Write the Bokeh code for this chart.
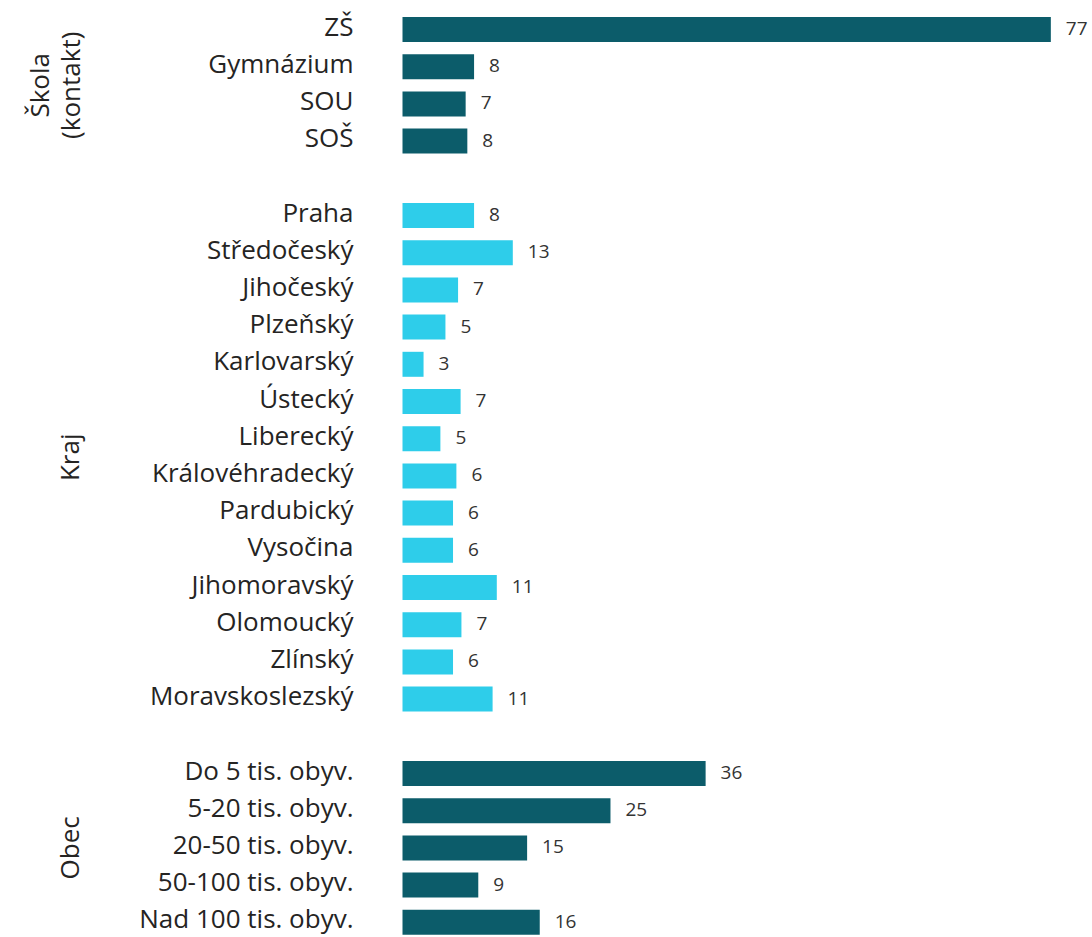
import math
from bokeh.plotting import figure
from bokeh.models import Range1d, ColumnDataSource
from bokeh.core.properties import value
from bokeh.embed import file_html
from bokeh.resources import INLINE

# ---- data ----
skola_cats = ["ZŠ", "Gymnázium", "SOU", "SOŠ"]
skola_vals = [77.0, 8.5, 7.5, 7.7]
skola_labels = ["77", "8", "7", "8"]

kraj_cats = ["Praha", "Středočeský", "Jihočeský", "Plzeňský", "Karlovarský", "Ústecký",
             "Liberecký", "Královéhradecký", "Pardubický", "Vysočina", "Jihomoravský",
             "Olomoucký", "Zlínský", "Moravskoslezský"]
kraj_vals = [8.5, 13.1, 6.6, 5.1, 2.5, 6.9, 4.5, 6.4, 6.0, 6.0, 11.2, 7.0, 6.0, 10.7]
kraj_labels = ["8", "13", "7", "5", "3", "7", "5", "6", "6", "6", "11", "7", "6", "11"]

obec_cats = ["Do 5 tis. obyv.", "5-20 tis. obyv.", "20-50 tis. obyv.",
             "50-100 tis. obyv.", "Nad 100 tis. obyv."]
obec_vals = [36.0, 24.7, 14.8, 9.0, 16.3]
obec_labels = ["36", "25", "15", "9", "16"]

group_names = ["Škola\n(kontakt)", "Kraj", "Obec"]

# ---- layout / style ----
W, H = 1092, 937
BAR_X0 = 402          # px of value 0 inside canvas
PX_PER_UNIT = 8.42
ROW_PX = 37.2
FIRST_CENTER = 29
DARK = "#0C5C6A"
LIGHT = "#2ECDEA"
FONT = value("Open Sans")

groups = [
    (skola_cats, skola_vals, skola_labels, DARK, -348),
    (kraj_cats, kraj_vals, kraj_labels, LIGHT, -334),
    (obec_cats, obec_vals, obec_labels, DARK, -334),
]

p = figure(width=W, height=H, output_backend="svg", toolbar_location=None,
           x_axis_type=None, y_axis_type=None, min_border=0,
           x_range=Range1d(-BAR_X0 / PX_PER_UNIT, (W - BAR_X0) / PX_PER_UNIT),
           y_range=Range1d((H - FIRST_CENTER) / ROW_PX, -FIRST_CENTER / ROW_PX))
p.outline_line_color = None
p.grid.visible = False
p.background_fill_color = "white"
p.border_fill_color = "white"

bar_h = 25 / ROW_PX
idx = 0
for gi, (cats, vals, labels, color, gx_off) in enumerate(groups):
    ys = [idx + i for i in range(len(cats))]
    src = ColumnDataSource(dict(y=ys, v=vals, lab=labels, cat=cats))
    p.hbar(y="y", left=0, right="v", height=bar_h, source=src,
           fill_color=color, line_color=None)
    p.text(x="v", y="y", text="lab", source=src, x_offset=15, y_offset=-1,
           text_align="left", text_baseline="middle", text_font=FONT,
           text_font_size="19px", text_color="#333333")
    p.text(x=0, y="y", text="cat", source=src, x_offset=-(402 - 353), y_offset=-4,
           text_align="right", text_baseline="middle", text_font=FONT,
           text_font_size="26px", text_color="#252423")
    gy = sum(ys) / len(ys)
    p.text(x=[0], y=[gy], text=[group_names[gi]], x_offset=gx_off,
           angle=math.pi / 2, text_align="center", text_baseline="middle",
           text_font=FONT, text_font_size="26px", text_color="#252423",
           text_line_height=0.85)
    idx += len(cats) + 1

open("out.html", "w").write(file_html(p, INLINE))
